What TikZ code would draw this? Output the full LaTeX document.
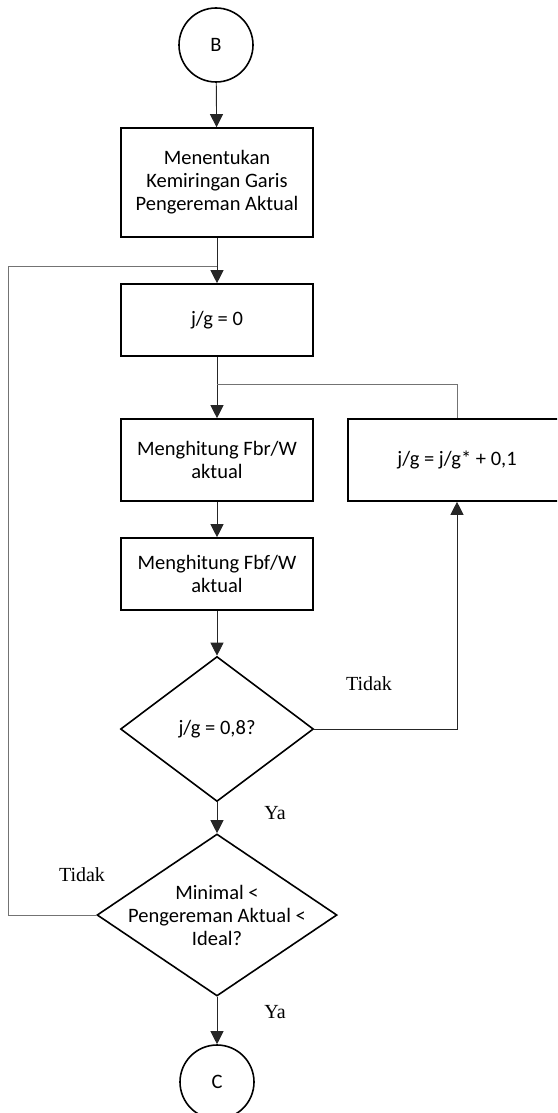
\documentclass[tikz,border=0pt]{standalone}
\usepackage{fontspec}
\setmainfont{Carlito}
\newfontfamily\labelfont{Liberation Serif}
\usetikzlibrary{shapes.geometric, arrows.meta, positioning, calc}

\begin{document}
\begin{tikzpicture}[
  x=1pt, y=-1pt,
  process/.style={
    rectangle,
    draw,
    line width=1.6pt,
    minimum width=192pt,
    inner sep=0pt,
    align=center,
    font=\fontsize{20.5}{23}\selectfont
  },
  decision/.style={
    diamond,
    draw,
    line width=1.6pt,
    inner sep=-20pt,
    align=center,
    font=\fontsize{20.5}{23}\selectfont
  },
  terminal/.style={
    circle,
    draw,
    line width=1.6pt,
    minimum size=74pt,
    inner sep=0pt,
    font=\fontsize{20.5}{23}\selectfont
  },
  flow/.style={line width=0.9pt, draw=black!85, -{Triangle[width=13pt,length=13pt]}},
  loopline/.style={line width=0.9pt, draw=black!55},
  answer/.style={font=\labelfont\fontsize{20}{24}\selectfont}
]
  % page frame of the reference
  \clip (0,0) rectangle (557,1113);

  % main column
  \node[terminal] (B) at (216,45) {B};
  \node[process, minimum height=109pt] (slope) at (217,182.5) {Menentukan\\Kemiringan Garis\\Pengereman Aktual};
  \node[process, minimum height=72pt] (init) at (217,320) {j/g = 0};
  \node[process, minimum height=82pt] (fbr) at (217,460) {Menghitung Fbr/W\\aktual};
  \node[process, minimum height=72pt] (fbf) at (217,574) {Menghitung Fbf/W\\aktual};
  \node[decision, minimum width=193pt, minimum height=145pt] (check) at (217,729) {j/g = 0,8?};
  \node[decision, minimum width=240pt, minimum height=162pt] (ideal) at (217,915) {Minimal <\\Pengereman Aktual <\\Ideal?};
  \node[terminal] (C) at (217,1082) {C};

  % side box, cut by the right edge
  \node[process, minimum width=218pt, minimum height=82pt] (step) at (457,460) {j/g = j/g* + 0,1};

  % junction points
  \coordinate (join) at (217,384);
  \coordinate (back) at (217,266);
  \coordinate (edge) at (8,266);

  % connectors
  \draw[flow] (B) -- (slope);
  \draw[flow] (slope) -- (init);
  \draw[flow] (init) -- (fbr);
  \draw[flow] (fbr) -- (fbf);
  \draw[flow] (fbf) -- (check);
  \draw[flow] (check) -- (ideal);
  \draw[flow] (ideal) -- (C);
  \draw[flow] (check.east) -| (step.south);
  \draw[loopline] (step.north) |- (join);
  \draw[loopline] (ideal.west) -| (edge) -- (back);

  % answers
  \node[answer] (no1) at (369,684) {Tidak};
  \node[answer] (yes1) at (275,813) {Ya};
  \node[answer] (no2) at (82,875) {Tidak};
  \node[answer] (yes2) at (275,1012) {Ya};
\end{tikzpicture}
\end{document}
